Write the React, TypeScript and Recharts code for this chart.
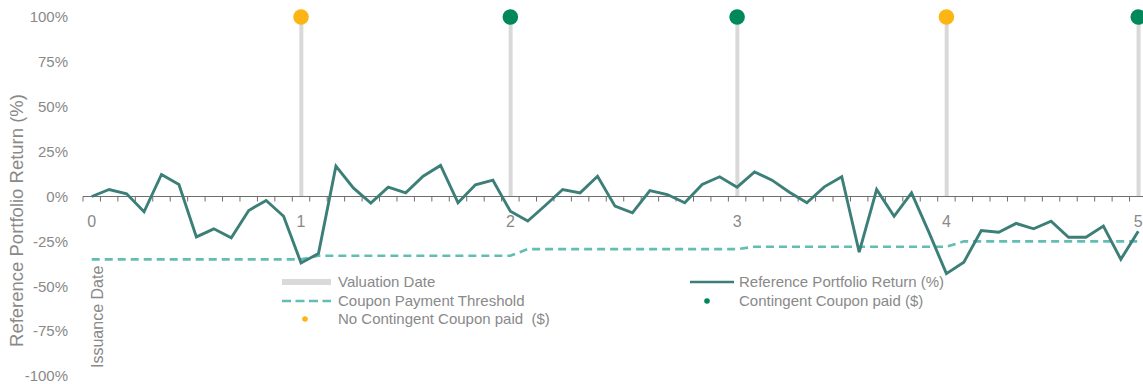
import React from 'react'
import { ComposedChart, Line, Bar, XAxis, YAxis, ReferenceLine, Legend } from 'recharts'

// Rendimiento mensual del portafolio de referencia (%), mes 0 = fecha de emisión
const portfolioReturn = [
  0, 3.9, 1.5, -8.5, 12.3, 6.7, -22.5, -18, -23, -7.8, -2.2, -11, -37,
  -31.8, 16.9, 4.8, -3.7, 5.2, 2, 11.3, 17.3, -3.5, 6.5, 9.1, -8.2,
  -13.7, -5, 3.9, 2, 11.3, -5.4, -9.1, 3.3, 1.1, -3.5, 6.7, 11, 5.2,
  13.7, 9.1, 2.4, -3.5, 5.4, 11, -31, 3.9, -11, 2, -20, -43,
  -36.6, -19, -19.9, -15, -18, -13.7, -22.7, -22.7, -16.5, -35, -19.3,
]

// Umbral de pago del cupón (%)
const couponThreshold = [
  -35, -35, -35, -35, -35, -35, -35, -35, -35, -35, -35, -35, -35,
  -33, -33, -33, -33, -33, -33, -33, -33, -33, -33, -33, -33,
  -29.3, -29.3, -29.3, -29.3, -29.3, -29.3, -29.3, -29.3, -29.3, -29.3, -29.3, -29.3, -29.3,
  -28, -28, -28, -28, -28, -28, -28, -28, -28, -28, -28, -28,
  -25, -25, -25, -25, -25, -25, -25, -25, -25, -25, -25,
]

const valuationMonths = [12, 24, 37, 49, 60]
const couponPaidMonths = [24, 37, 60]
const couponMissedMonths = [12, 49]
const yearLabelMonths = [0, 12, 24, 37, 49, 60]
const yearLabels = ['0', '1', '2', '3', '4', '5']
const yTicks = [-100, -75, -50, -25, 0, 25, 50, 75, 100]
const VALUATION_LEVEL = 100

const COLORS = {
  text: '#898989',
  axis: '#6e6e6e',
  ret: '#3b7f78',
  thr: '#62bdb4',
  val: '#d9d9d9',
  paid: '#00875a',
  missed: '#fdb515',
}

const data = portfolioReturn.map((r, m) => ({
  m,
  ret: r,
  thr: couponThreshold[m],
  val: valuationMonths.includes(m) ? VALUATION_LEVEL : null,
  paid: couponPaidMonths.includes(m) ? VALUATION_LEVEL : null,
  missed: couponMissedMonths.includes(m) ? VALUATION_LEVEL : null,
  year: yearLabelMonths.includes(m) ? 0 : null,
  yearLabel: yearLabels[yearLabelMonths.indexOf(m)] ?? '',
}))

// límites entre meses, donde van las marquitas del eje
const tickBounds = Array.from({ length: portfolioReturn.length + 1 }, (_, i) => i - 0.5)

const legendLeft = [
  { label: 'Valuation Date', kind: 'bar', color: COLORS.val },
  { label: 'Coupon Payment Threshold', kind: 'dash', color: COLORS.thr },
  { label: 'No Contingent Coupon paid  ($)', kind: 'dot', color: COLORS.missed },
]
const legendRight = [
  { label: 'Reference Portfolio Return (%)', kind: 'line', color: COLORS.ret },
  { label: 'Contingent Coupon paid ($)', kind: 'dot', color: COLORS.paid },
]

function Swatch({ kind, color, width, dotX }: { kind: string; color: string; width: number; dotX: number }) {
  return (
    <svg width={width} height={8} style={{ display: 'block' }}>
      {kind === 'bar' && <rect x={0} y={1} width={width} height={6} fill={color} />}
      {kind === 'dash' && (
        <line x1={0} y1={4} x2={width} y2={4} stroke={color} strokeWidth={2.5} strokeDasharray="9 4.5" />
      )}
      {kind === 'line' && <line x1={0} y1={4} x2={width} y2={4} stroke={color} strokeWidth={2.5} />}
      {kind === 'dot' && <circle cx={dotX} cy={4} r={2.8} fill={color} />}
    </svg>
  )
}

function LegendColumn({ items, swatchWidth, gap, dotX }: { items: typeof legendLeft; swatchWidth: number; gap: number; dotX: number }) {
  return (
    <div>
      {items.map((it) => (
        <div key={it.label} style={{ display: 'flex', alignItems: 'center', height: 18.5 }}>
          <Swatch kind={it.kind} color={it.color} width={swatchWidth} dotX={dotX} />
          <span style={{ marginLeft: gap, fontSize: 15, color: COLORS.text, whiteSpace: 'pre', lineHeight: '18px' }}>
            {it.label}
          </span>
        </div>
      ))}
    </div>
  )
}

function ChartLegend() {
  return (
    <div style={{ display: 'flex' }}>
      <div style={{ width: 408 }}>
        <LegendColumn items={legendLeft} swatchWidth={49} gap={7} dotX={23} />
      </div>
      <LegendColumn items={legendRight} swatchWidth={44} gap={5} dotX={17} />
    </div>
  )
}

// eslint-disable-next-line @typescript-eslint/no-explicit-any
function YTitle(props: any) {
  const vb = props.viewBox
  const x = vb.x + 23
  const y = vb.y + vb.height / 2 + 24
  return (
    <text x={x} y={y} transform={`rotate(-90 ${x} ${y})`} textAnchor="middle" fontSize={18.5} fill={COLORS.text}>
      Reference Portfolio Return (%)
    </text>
  )
}

// eslint-disable-next-line @typescript-eslint/no-explicit-any
function IssuanceLabel(props: any) {
  const vb = props.viewBox
  const x = vb.x + 11
  const y = vb.y + vb.height - 8
  return (
    <text x={x} y={y} transform={`rotate(-90 ${x} ${y})`} textAnchor="start" fontSize={16} fill={COLORS.text}>
      Issuance Date
    </text>
  )
}

// eslint-disable-next-line @typescript-eslint/no-explicit-any
function YearLabel(props: any) {
  const { cx, cy, payload } = props
  if (payload?.year == null || typeof cy !== 'number') return null
  return (
    <text x={cx} y={cy + 30.5} textAnchor="middle" fontSize={16} fill={COLORS.text}>
      {payload.yearLabel}
    </text>
  )
}

export default function App() {
  return (
    <div
      style={{
        position: 'fixed',
        top: 0,
        left: 0,
        width: 1143,
        height: 384,
        overflow: 'hidden',
        background: '#fff',
        fontFamily: '"Liberation Sans", Arial, sans-serif',
      }}
    >
      <ComposedChart width={1150} height={384} data={data} margin={{ top: 17, right: 3, bottom: 8, left: 0 }}>
        <XAxis
          dataKey="m"
          type="number"
          domain={[tickBounds[0], tickBounds[tickBounds.length - 1]]}
          allowDataOverflow
          hide
        />
        <YAxis
          domain={[-100, 100]}
          ticks={yTicks}
          interval={0}
          tickFormatter={(v: number) => `${v}%`}
          axisLine={false}
          tickLine={false}
          tickMargin={9}
          width={83}
          tick={{ fontSize: 15, fill: COLORS.text }}
          label={<YTitle />}
        />
        <Bar dataKey="val" barSize={4} fill={COLORS.val} isAnimationActive={false} legendType="none" />
        <ReferenceLine y={0} stroke={COLORS.axis} strokeWidth={1} />
        {tickBounds.map((t) => (
          <ReferenceLine
            key={t}
            segment={[
              { x: t, y: 0 },
              { x: t, y: -2.8 },
            ]}
            stroke={COLORS.axis}
            strokeWidth={1}
          />
        ))}
        <ReferenceLine x={0} stroke="none" label={<IssuanceLabel />} />
        <Line
          dataKey="thr"
          type="linear"
          stroke={COLORS.thr}
          strokeWidth={2.6}
          strokeDasharray="8 5"
          dot={false}
          activeDot={false}
          isAnimationActive={false}
        />
        <Line
          dataKey="ret"
          type="linear"
          stroke={COLORS.ret}
          strokeWidth={2.9}
          dot={false}
          activeDot={false}
          isAnimationActive={false}
        />
        <Line
          dataKey="missed"
          stroke="none"
          dot={{ r: 7.8, fill: COLORS.missed, stroke: 'none' }}
          activeDot={false}
          isAnimationActive={false}
        />
        <Line
          dataKey="paid"
          stroke="none"
          dot={{ r: 7.8, fill: COLORS.paid, stroke: 'none' }}
          activeDot={false}
          isAnimationActive={false}
        />
        <Line dataKey="year" stroke="none" dot={<YearLabel />} activeDot={false} isAnimationActive={false} />
        <Legend
          layout="horizontal"
          verticalAlign="middle"
          align="center"
          content={<ChartLegend />}
          wrapperStyle={{ left: 282, top: 273, width: 760, height: 60 }}
        />
      </ComposedChart>
    </div>
  )
}
